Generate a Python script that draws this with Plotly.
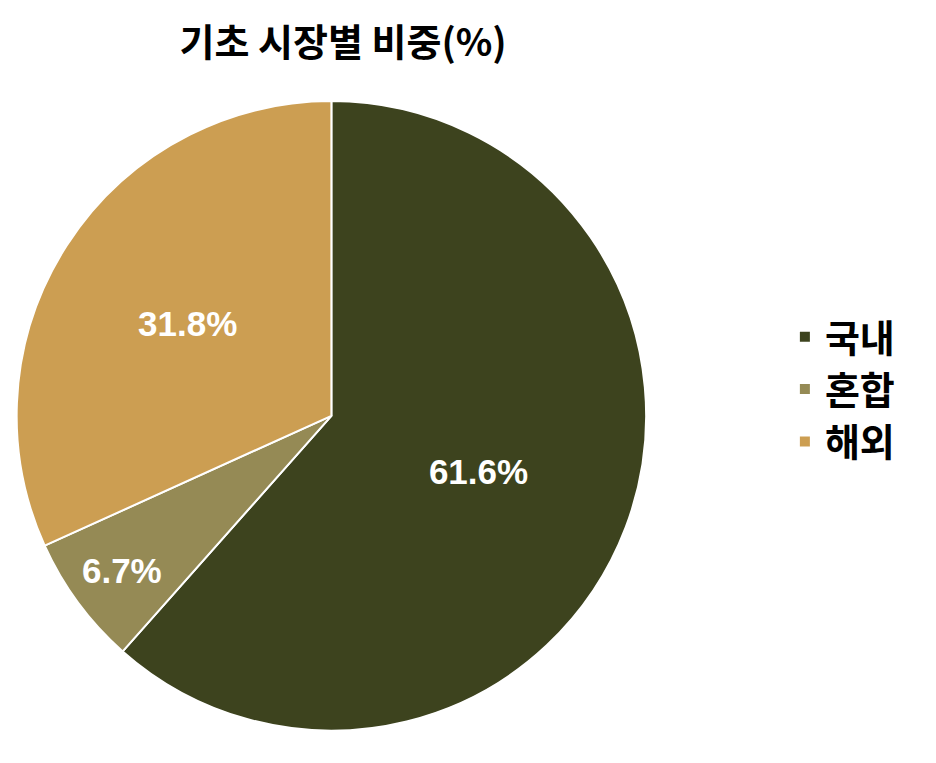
import plotly.graph_objects as go

labels = ["국내", "혼합", "해외"]
values = [61.6, 6.7, 31.8]
colors = ["#3D431E", "#958A55", "#CC9E52"]

fig = go.Figure(go.Pie(
    labels=labels, values=values, sort=False, direction="clockwise", rotation=0,
    marker=dict(colors=colors, line=dict(color="white", width=2)),
    texttemplate="%{value:.1f}%", textposition="inside", insidetextorientation="horizontal",
    textfont=dict(color="white", size=35, family="Liberation Sans", weight="bold"),
    domain=dict(x=[0.009, 0.682], y=[0.053, 0.878]),
))
fig.update_layout(
    width=936, height=763, margin=dict(l=0, r=0, t=0, b=0),
    paper_bgcolor="white", plot_bgcolor="white",
    title=dict(text="<b>기초 시장별 비중(%)</b>", x=0.358, xanchor="center", y=0.955, yanchor="middle",
               font=dict(size=38, color="black", family="Noto Sans CJK KR")),
    legend=dict(x=0.83, y=0.5, xanchor="left", yanchor="middle",
                font=dict(size=38, color="black", family="Noto Sans CJK KR", weight="bold"),
                itemsizing="constant", tracegroupgap=0),
)
fig.write_html("out.html")
